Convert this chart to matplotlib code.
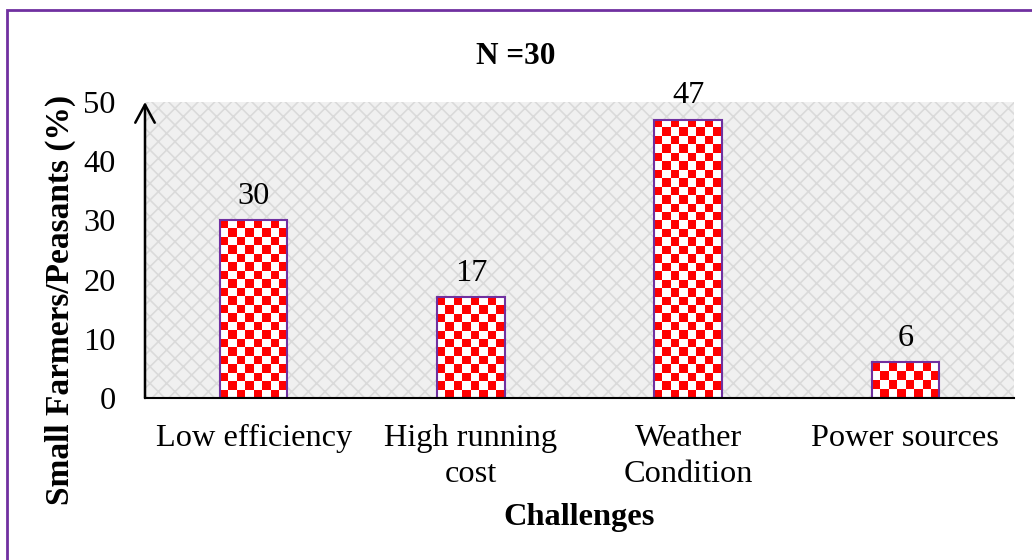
import numpy as np
import matplotlib
matplotlib.use('Agg')
import matplotlib.pyplot as plt
from matplotlib.patches import Rectangle

# Данные опроса
categories = ['Low efficiency', 'High running\ncost', 'Weather\nCondition', 'Power sources']
percent = [30, 17, 47, 6]
y_ticks = [0, 10, 20, 30, 40, 50]

PURPLE = '#7030a0'
FS = 23.3


def checker_fill(ax, bar, n_cols=8):
    # шахматная заливка столбца, обрезанная по его контуру
    x0, y0 = bar.get_x(), bar.get_y()
    w, h = bar.get_width(), bar.get_height()
    p0 = ax.transData.transform((x0, y0))
    p1 = ax.transData.transform((x0 + w, y0 + h))
    cell = (p1[0] - p0[0]) / n_cols
    n_rows = max(1, int(round((p1[1] - p0[1]) / cell)))
    ii, jj = np.indices((n_rows, n_cols))
    mask = (ii + jj) % 2 == 0
    img = np.ones((n_rows, n_cols, 3))
    img[mask] = [1.0, 0.0, 0.0]
    im = ax.imshow(img, extent=(x0, x0 + w, y0, y0 + h), origin='upper',
                   interpolation='nearest', aspect='auto', zorder=2)
    im.set_clip_path(bar)


def plot_chart(output_image='out.png'):
    plt.rcParams['font.family'] = ['Liberation Serif', 'DejaVu Serif']
    plt.rcParams['hatch.linewidth'] = 1.2

    fig = plt.figure(figsize=(10.32, 5.6), dpi=100)
    ax = fig.add_axes([145 / 1032, 162 / 560, 869 / 1032, 296 / 560])

    x = np.arange(len(categories))
    ax.set_xlim(-0.5, len(categories) - 0.5)
    ax.set_ylim(0, 50)

    # фон области построения: серый с косой сеткой
    ax.set_facecolor('#f0f0f0')
    ax.add_patch(Rectangle((0, 0), 1, 1, transform=ax.transAxes, fill=False,
                           hatch='xx', edgecolor='#dadada', lw=0, zorder=0))

    bars = ax.bar(x, percent, width=0.31, facecolor='none',
                  edgecolor=PURPLE, linewidth=1.5, zorder=3)
    for bar in bars:
        checker_fill(ax, bar)
    ax.set_xlim(-0.5, len(categories) - 0.5)
    ax.set_ylim(0, 50)

    for xi, val in zip(x, percent):
        ax.annotate(f'{val}', xy=(xi, val), xytext=(0, 7),
                    textcoords='offset points', ha='center', va='bottom',
                    fontsize=FS, annotation_clip=False)

    ax.set_xticks(x)
    ax.set_xticklabels(categories, fontsize=FS, linespacing=1.3)
    ax.set_yticks(y_ticks)
    ax.tick_params(axis='y', length=0, pad=21, labelsize=FS)
    ax.tick_params(axis='x', length=0, pad=19)

    for side in ('top', 'right', 'left'):
        ax.spines[side].set_visible(False)
    ax.spines['bottom'].set_color('black')
    ax.spines['bottom'].set_linewidth(1.5)
    ax.spines['bottom'].set_zorder(4)

    # ось Y со стрелкой
    ax.annotate('', xy=(0, 1.0), xytext=(0, 0), xycoords='axes fraction',
                textcoords='axes fraction', annotation_clip=False,
                arrowprops=dict(arrowstyle='->,head_width=0.35,head_length=0.65',
                                color='black', lw=1.8, mutation_scale=20,
                                shrinkA=0, shrinkB=0))

    ax.set_xlabel('Challenges', fontsize=FS, fontweight='bold', labelpad=10)
    fig.text(60 / 1032, 0.464, 'Small Farmers/Peasants (%)', rotation=90,
             ha='center', va='center', fontsize=24, fontweight='bold')
    fig.text(0.5, 1 - 57 / 560, 'N =30', ha='center', va='center',
             fontsize=22.5, fontweight='bold')

    # рамка вокруг всего рисунка
    fig.patches.append(Rectangle((7 / 1032, -0.1), 1.2, 1 - 10 / 560 + 0.1,
                                 transform=fig.transFigure, fill=False,
                                 edgecolor=PURPLE, linewidth=2))

    fig.savefig(output_image, dpi=100)


if __name__ == '__main__':
    plot_chart('out.png')
